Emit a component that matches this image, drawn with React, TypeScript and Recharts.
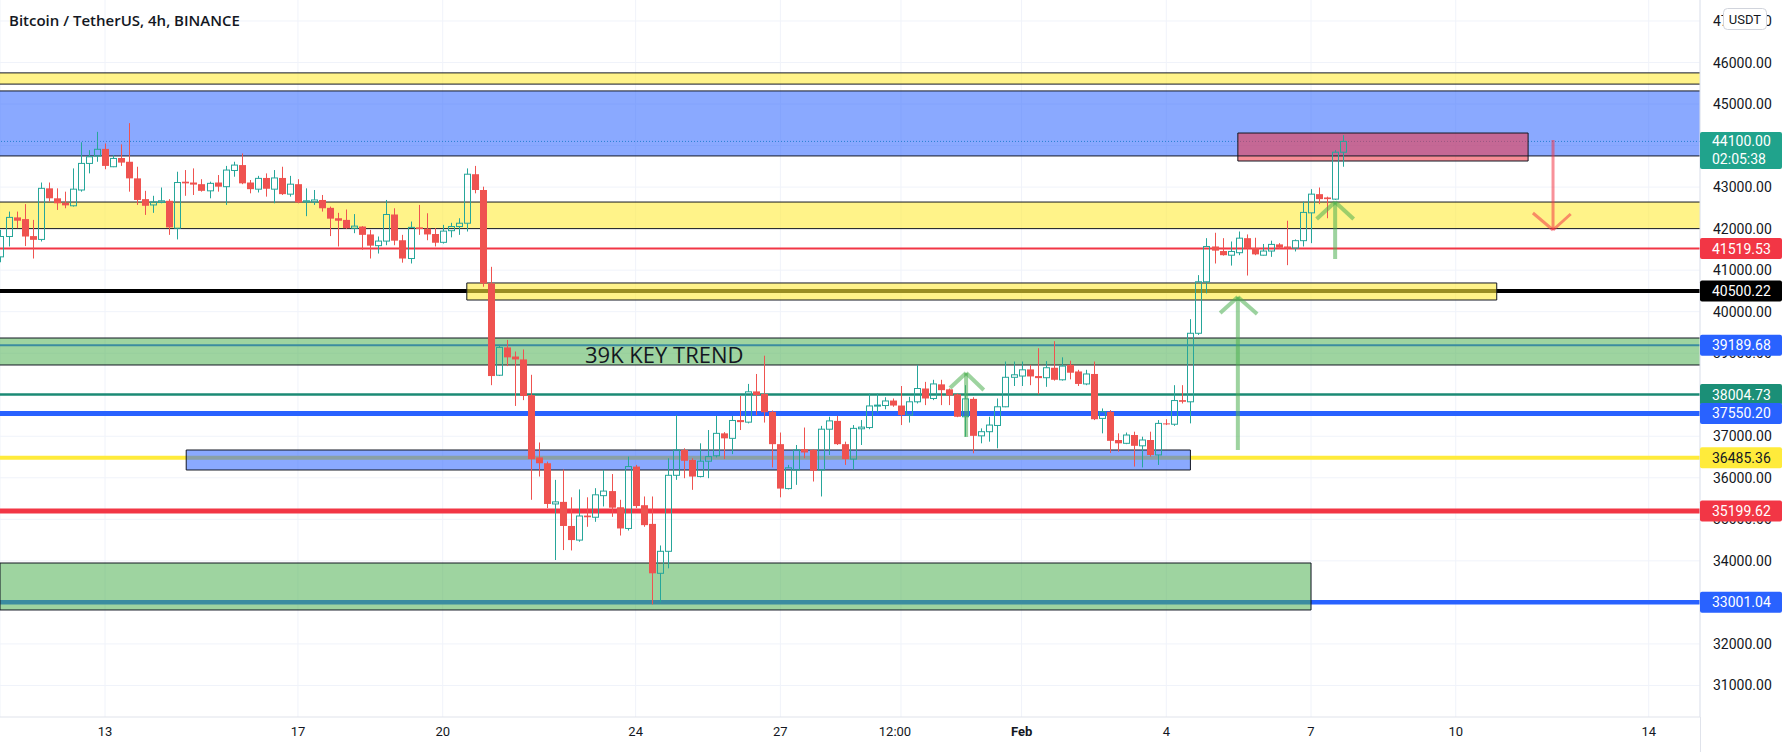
import React from "react";
import { ComposedChart, Bar, XAxis, YAxis, CartesianGrid, ReferenceLine, ReferenceArea } from "recharts";

// 4h candles, index 0 = Jan 13 00:00, one step = 4 hours
const firstIndex = -13;
const opens = [
  41320, 41810, 42270, 42230, 41820, 41740, 42970, 42730, 42620, 42550, 42930, 43570, 43750,
  43920, 43490, 43700, 43610, 43210, 42710, 42570, 42630, 42670, 42010, 43130, 43110, 43070, 42910, 43110, 43010, 43400,
  43530, 43110, 42950, 43220, 42950, 43220, 42830, 43070, 42640, 42640, 42690, 42500, 42250, 42210, 42010, 42050,
  41860, 41590, 41700, 42340, 41720, 41280, 42030, 42000, 41870, 41670, 41950, 42050, 42130, 43310, 42930, 40680,
  38470, 39140, 38920, 38850, 37990, 36490, 36350, 35370, 35420, 34840, 34500, 35090, 35050, 35570, 35680, 35290,
  34780, 36270, 35340, 34890, 33700, 34230, 36060, 36670, 36430, 36030, 36400, 36530, 37070, 36950, 37390, 37340,
  38080, 38020, 37590, 36810, 35740, 36190, 36690, 36670, 36190, 37170, 37370, 36810, 36450, 37180, 37210, 37730,
  37740, 37860, 37740, 37510, 37830, 38150, 37910, 38250, 38130, 38010, 37470, 37900, 37010, 37110, 37260, 37710,
  38420, 38450, 38610, 38450, 38410, 38650, 38360, 38720, 38560, 38260, 38500, 37430, 37590, 36910, 36830, 37030,
  36770, 36910, 36550, 37310, 37290, 37870, 37830, 39480, 40720, 41570, 41460, 41360, 41420, 41770, 41530, 41360,
  41460, 41620, 41570, 41530, 41710, 42380, 42830, 42750, 42710, 43840,
];
const highs = [
  41970, 42410, 42410, 42590, 42210, 43110, 43110, 42970, 42890, 43450, 44080, 43890, 44330,
  44050, 43770, 44030, 44540, 43490, 42910, 42790, 42990, 42710, 43370, 43410, 43450, 43190, 43130, 43290, 43510, 43610,
  43810, 43170, 43270, 43330, 43410, 43490, 43270, 43190, 42970, 42930, 42810, 42530, 42380, 42460, 42350, 42060,
  41970, 41810, 42690, 42490, 41850, 42170, 42570, 42370, 42010, 42090, 42140, 42250, 43450, 43510, 43010, 41080,
  39200, 39320, 39040, 39090, 38480, 36850, 36390, 35950, 36200, 35530, 35720, 35530, 35750, 36190, 36090, 35470,
  36510, 36310, 35550, 35550, 34370, 36470, 37510, 36710, 36470, 36830, 37150, 37490, 37100, 37490, 37970, 38260,
  38500, 38940, 37620, 37090, 36310, 36790, 37210, 36690, 37250, 37470, 37490, 36870, 37270, 37390, 38030, 38030,
  37940, 37910, 38210, 37950, 38720, 38310, 38360, 38360, 38150, 38030, 38230, 37940, 37190, 37470, 37910, 38800,
  38800, 38800, 38720, 39120, 38810, 39290, 38900, 38820, 38600, 38600, 38800, 37670, 37630, 37070, 37090, 37110,
  36990, 37110, 37390, 37410, 38230, 38230, 39820, 40880, 41770, 41900, 41770, 41690, 41930, 41860, 41780, 41630,
  41710, 41650, 42190, 41740, 42650, 42950, 42990, 42770, 43890, 44250,
];
const lows = [
  41190, 41570, 42010, 41580, 41280, 41690, 42650, 42450, 42490, 42530, 42890, 43330, 43610,
  43430, 43480, 43510, 42890, 42570, 42330, 42380, 42610, 41850, 41740, 42790, 42810, 42890, 42730, 42890, 42570, 43250,
  43070, 42850, 42870, 42770, 42610, 42810, 42770, 42610, 42300, 42570, 42410, 41820, 41570, 41990, 41890, 41490,
  41280, 41400, 41600, 41600, 41180, 41160, 41850, 41720, 41570, 41640, 41790, 41850, 41930, 42850, 40600, 38230,
  38450, 38690, 37730, 37870, 35470, 36030, 35270, 34020, 34260, 34250, 34460, 34820, 34940, 35310, 35060, 34610,
  34730, 35270, 34820, 32950, 33000, 33820, 35950, 35990, 35710, 36010, 35990, 36490, 36450, 36570, 37150, 37310,
  37510, 37330, 36250, 35530, 35720, 35830, 36470, 35910, 35550, 36550, 36790, 36310, 36200, 36790, 37170, 37570,
  37650, 37710, 37270, 37330, 37790, 37750, 37870, 37750, 37750, 37460, 36990, 36590, 36830, 36870, 36710, 37700,
  38210, 38210, 38230, 38010, 38190, 38340, 38340, 38370, 38210, 38230, 37390, 37070, 36600, 36630, 36810, 36270,
  36250, 36510, 36310, 37270, 37250, 37790, 37310, 39440, 40440, 41160, 41350, 41110, 41360, 40870, 41360, 41350,
  41320, 41510, 41120, 41450, 41570, 41650, 42590, 42250, 42690, 43490,
];
const closes = [
  41810, 42270, 42190, 41810, 41730, 42970, 42730, 42610, 42560, 42950, 43570, 43730, 43910,
  43510, 43690, 43590, 43210, 42690, 42550, 42640, 42670, 42030, 43110, 43090, 43060, 42910, 43090, 43010, 43410, 43530,
  43090, 42950, 43210, 42960, 43220, 42830, 43070, 42630, 42670, 42690, 42490, 42240, 42190, 42010, 42060, 41850,
  41590, 41700, 42340, 41710, 41280, 42030, 41990, 41860, 41660, 41940, 42050, 42130, 43310, 42930, 40680, 38450,
  39140, 38900, 38850, 37970, 36450, 36350, 35370, 35420, 34840, 34500, 35080, 35050, 35590, 35680, 35280, 34780,
  36270, 35320, 34860, 33700, 34230, 36060, 36670, 36410, 36030, 36400, 36510, 37070, 36950, 37380, 37340, 38070,
  37990, 37580, 36810, 35740, 36240, 36670, 36610, 36170, 37170, 37370, 36810, 36450, 37190, 37220, 37730, 37750,
  37850, 37740, 37510, 37830, 38150, 37910, 38260, 38110, 37980, 37470, 37900, 37010, 37110, 37270, 37710, 38420,
  38480, 38600, 38440, 38400, 38650, 38360, 38690, 38530, 38260, 38500, 37410, 37590, 36890, 36830, 37030, 36770,
  36910, 36550, 37310, 37290, 37860, 37830, 39480, 40720, 41570, 41470, 41360, 41450, 41770, 41530, 41380, 41460,
  41620, 41540, 41530, 41710, 42390, 42830, 42710, 42710, 43840, 44100,
];

const dateTicks = [0, 24, 42, 66, 84, 99, 114, 132, 150, 168, 192];
const dateLabels = ["13", "17", "20", "24", "27", "12:00", "Feb", "4", "7", "10", "14"];
const priceTicks = [31000, 32000, 33000, 34000, 35000, 36000, 37000, 38000, 39000, 40000, 41000, 42000, 43000, 44000, 45000, 46000, 47000];

const lastPrice = 44100;
const countdown = "02:05:38";
const levels = [41519.53, 40500.22, 39189.68, 38004.73, 37550.2, 36485.36, 35199.62, 33001.04];

// zones across the whole chart: [low, high]
const yellowBands = [
  [45480, 45750],
  [42000, 42640],
];
const blueBand = [43750, 45315];
const trendBand = [38716, 39366];
// boxes: [fromIndex, toIndex, low, high]
const blueBox = [10.1, 135, 36188, 36669];
const greenBox = [-13.06, 150, 32817, 33948];
const yellowBox = [45, 173.1, 40281, 40691];
const redBox = [140.9, 177, 43628, 44302];

// arrows: shaft x, tail price, tip price, head end points
const upArrows = [
  { x: 107.1, from: 36982, to: 38523, head: [[105.1, 38162], [109.3, 38114]] },
  { x: 140.9, from: 36669, to: 40353, head: [[138.7, 39968], [143.3, 39944]] },
  { x: 153.0, from: 41268, to: 42641, head: [[150.7, 42231], [155.3, 42231]] },
];
const downArrow = { x: 180.1, from: 44134, to: 41967, head: [[177.6, 42376], [182.3, 42352]] };

const xDomain = [-13.06, 198.38];
const yDomain = [30240, 47505];

const UP = "#26a69a";
const DOWN = "#ef5350";
const BORDER = "#131722";
const GRID = "#f0f3fa";
const FONT = "Roboto, 'Noto Sans', sans-serif";

const levelStyle = [
  { line: "#f23645", w: 2, bg: "#f23645", fg: "#fff" },
  { line: "#000000", w: 4, bg: "#000000", fg: "#fff" },
  { line: "#2962ff", w: 2, bg: "#2962ff", fg: "#fff" },
  { line: "#1b8a75", w: 2.5, bg: "#1b8f77", fg: "#fff" },
  { line: "#2962ff", w: 5, bg: "#2962ff", fg: "#fff" },
  { line: "#ffeb3b", w: 4, bg: "#ffeb3b", fg: "#131722" },
  { line: "#f23645", w: 5, bg: "#f23645", fg: "#fff" },
  { line: "#2962ff", w: 4.5, bg: "#2962ff", fg: "#fff" },
];

const Candle = (props: any) => {
  const { x, y, width, height } = props;
  const d = props.payload ?? props;
  if (x == null || y == null || !d) return null;
  const { open, close, high, low } = d;
  const top = Math.min(y, y + height);
  const span = Math.abs(height);
  const k = span / (high - low);
  const py = (v: number) => top + (high - v) * k;
  const c = Math.floor(x + width / 2);
  const up = close >= open;
  const bTop = py(Math.max(open, close));
  let bBot = py(Math.min(open, close));
  if (bBot - bTop < 1) bBot = bTop + 1;
  if (up) {
    return (
      <g>
        <line x1={c + 0.5} x2={c + 0.5} y1={top} y2={bTop} stroke={UP} strokeWidth={1} />
        <line x1={c + 0.5} x2={c + 0.5} y1={bBot} y2={top + span} stroke={UP} strokeWidth={1} />
        <rect x={c - 2.5} y={bTop} width={6} height={bBot - bTop} fill="none" stroke={UP} strokeWidth={1} />
      </g>
    );
  }
  return (
    <g>
      <line x1={c + 0.5} x2={c + 0.5} y1={top} y2={top + span} stroke={DOWN} strokeWidth={1} />
      <rect x={c - 3} y={bTop} width={7} height={bBot - bTop} fill={DOWN} />
    </g>
  );
};

const Tag = ({ x, y, text, sub, bg, fg }: any) => {
  const top = sub ? y - 9.5 : y - 10.5;
  const h = sub ? 37 : 21;
  return (
    <g>
      <rect x={x} y={top} width={82} height={h} rx={2} fill={bg} />
      <text x={x + 12} y={y} dy="0.36em" fill={fg} fontSize={14} fontFamily={FONT}>
        {text}
      </text>
      {sub && (
        <text x={x + 12} y={y + 18} dy="0.36em" fill={fg} fontSize={14} fontFamily={FONT}>
          {sub}
        </text>
      )}
    </g>
  );
};

// price ticks first, then the coloured tags, so the tags are painted over the ticks
const axisValues = [...priceTicks, ...levels, lastPrice];

const PriceTick = (props: any) => {
  const { x, y, payload } = props;
  const v = payload.value;
  const left = x - 13;
  if (Math.abs(v - lastPrice) < 0.01) {
    return <Tag x={left} y={y} text={lastPrice.toFixed(2)} sub={countdown} bg="#20a38c" fg="#fff" />;
  }
  const n = levels.findIndex((l) => Math.abs(l - v) < 0.01);
  if (n >= 0) {
    return <Tag x={left} y={y} text={levels[n].toFixed(2)} bg={levelStyle[n].bg} fg={levelStyle[n].fg} />;
  }
  return (
    <text x={x} y={y} dy="0.36em" fill="#131722" fontSize={14} fontFamily={FONT}>
      {v.toFixed(2)}
    </text>
  );
};

const DateTick = (props: any) => {
  const { x, y, payload } = props;
  const label = dateLabels[dateTicks.indexOf(payload.value)];
  return (
    <text
      x={label === "12:00" ? x - 6 : x}
      y={y + 19}
      textAnchor="middle"
      fill="#131722"
      fontSize={13}
      fontWeight={label === "Feb" ? 700 : 400}
      fontFamily={FONT}
    >
      {label}
    </text>
  );
};

export default function App() {
  const data = opens.map((open, k) => ({
    i: firstIndex + k,
    open,
    high: highs[k],
    low: lows[k],
    close: closes[k],
    range: [lows[k], highs[k]],
  }));

  const band = (lo: number, hi: number, fill: string, key: string) => [
    <ReferenceArea key={key + "a"} y1={lo} y2={hi} fill={fill} fillOpacity={1} stroke="none" zIndex={20} />,
    <ReferenceLine key={key + "b"} y={lo} stroke={BORDER} strokeWidth={1} zIndex={30} />,
    <ReferenceLine key={key + "c"} y={hi} stroke={BORDER} strokeWidth={1} zIndex={30} />,
  ];
  const box = (b: number[], fill: string, key: string) => (
    <ReferenceArea key={key} x1={b[0]} x2={b[1]} y1={b[2]} y2={b[3]} fill={fill} fillOpacity={1} stroke={BORDER} strokeWidth={1} ifOverflow="visible" zIndex={25} />
  );
  const arrow = (a: any, color: string, w: number, key: string) => [
    <ReferenceLine key={key + "s"} segment={[{ x: a.x, y: a.from }, { x: a.x, y: a.to }]} stroke={color} strokeWidth={w} zIndex={600} />,
    <ReferenceLine key={key + "l"} segment={[{ x: a.head[0][0], y: a.head[0][1] }, { x: a.x, y: a.to }]} stroke={color} strokeWidth={w} zIndex={600} />,
    <ReferenceLine key={key + "r"} segment={[{ x: a.head[1][0], y: a.head[1][1] }, { x: a.x, y: a.to }]} stroke={color} strokeWidth={w} zIndex={600} />,
  ];

  const YELLOW = "rgba(255,235,59,0.6)";
  const BLUE = "rgba(41,98,255,0.55)";
  const GREEN = "rgba(76,175,80,0.54)";
  const RED = "rgba(242,54,69,0.57)";

  return (
    <div style={{ position: "absolute", left: 0, top: 0, width: 1787, height: 752, background: "#fff", overflow: "hidden" }}>
      <ComposedChart width={1787} height={752} data={data} margin={{ top: 0, right: 0, bottom: 0, left: 0 }}>
        <CartesianGrid stroke={GRID} horizontal={false} />
        <XAxis
          dataKey="i"
          type="number"
          domain={xDomain}
          allowDataOverflow
          ticks={dateTicks}
          interval={0}
          height={35}
          axisLine={{ stroke: "#e0e3eb" }}
          tickLine={false}
          tickSize={0}
          tickMargin={0}
          tick={<DateTick />}
        />
        <YAxis
          orientation="right"
          type="number"
          domain={yDomain}
          allowDataOverflow
          ticks={axisValues}
          interval={0}
          width={87}
          axisLine={{ stroke: "#e0e3eb" }}
          tickLine={false}
          tickSize={0}
          tickMargin={13}
          tick={<PriceTick />}
        />

        {priceTicks.map((v) => (
          <ReferenceLine key={"g" + v} y={v} stroke={GRID} strokeWidth={1} zIndex={5} />
        ))}
        <ReferenceLine y={lastPrice} stroke={UP} strokeWidth={1} strokeDasharray="1 2" zIndex={10} />
        {levels.map((v, n) => (
          <ReferenceLine key={"lv" + n} y={v} stroke={levelStyle[n].line} strokeWidth={levelStyle[n].w} zIndex={10} />
        ))}

        {yellowBands.map((b, n) => band(b[0], b[1], YELLOW, "yb" + n))}
        {band(blueBand[0], blueBand[1], BLUE, "bb")}
        {band(trendBand[0], trendBand[1], GREEN, "gb")}
        {box(blueBox, BLUE, "bx")}
        {box(greenBox, GREEN, "gx")}
        {box(yellowBox, YELLOW, "yx")}
        {box(redBox, RED, "rx")}

        <Bar dataKey="range" barSize={7} shape={<Candle />} isAnimationActive={false} zIndex={300} />

        {upArrows.map((a, n) => arrow(a, "rgba(76,175,80,0.55)", 4, "ua" + n))}
        {arrow(downArrow, "rgba(242,54,69,0.55)", 3, "da")}
      </ComposedChart>

      <svg width={1787} height={752} style={{ position: "absolute", left: 0, top: 0, pointerEvents: "none" }}>
        <line x1={1700.5} x2={1700.5} y1={717} y2={752} stroke="#e0e3eb" />
        <text x={9} y={26} fontSize={15} fontWeight={600} fill="#131722" fontFamily="'Open Sans', sans-serif">
          Bitcoin / TetherUS, 4h, BINANCE
        </text>
        <text x={585} y={363} fontSize={22} fill="#131722" fontFamily="'Open Sans', sans-serif">
          39K KEY TREND
        </text>
        <rect x={1723.5} y={8.5} width={43} height={21} rx={4} fill="#fff" stroke="#d1d4dc" />
        <text x={1745} y={19} dy="0.36em" textAnchor="middle" fontSize={13} fill="#131722" fontFamily={FONT}>
          USDT
        </text>
      </svg>
    </div>
  );
}
